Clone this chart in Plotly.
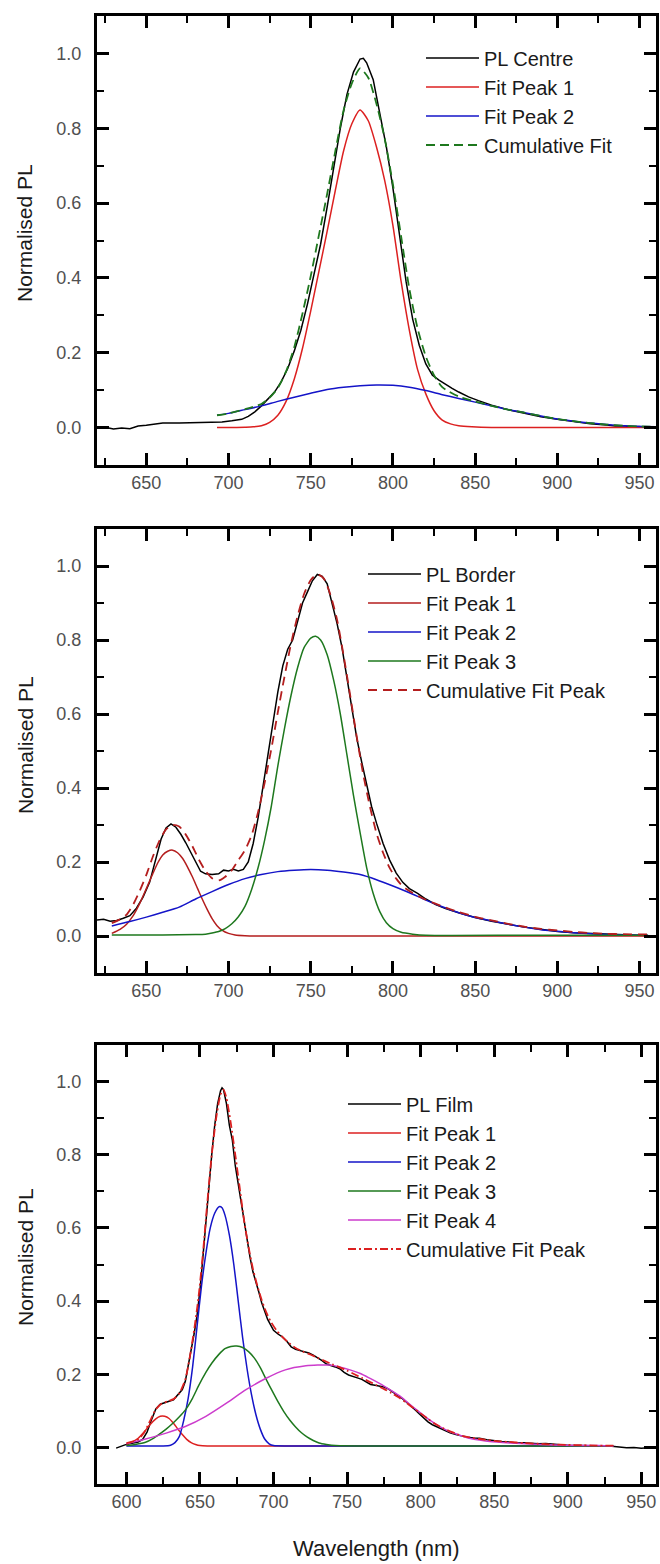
import plotly.graph_objects as go

# ---------------- Panel 1: PL Centre ----------------
centre_wl = [620, 625, 630, 635, 640, 645, 650, 655, 660, 670, 680, 690, 696, 702, 708, 712,
             716, 720, 724, 728, 732, 736, 740, 744, 748, 752, 756, 760, 764, 768, 772, 776,
             780, 782, 784, 788, 792, 796, 800, 804, 808, 812, 816, 820, 824, 828, 832, 836,
             840, 846, 852, 860, 870, 880, 890, 900, 910, 920, 930, 935, 940, 945, 950, 955, 960]
centre_pl = [-0.002, 0.001, -0.004, -0.001, -0.003, 0.004, 0.006, 0.008, 0.012, 0.012, 0.013,
             0.013, 0.015, 0.018, 0.022, 0.030, 0.042, 0.058, 0.078, 0.095, 0.122, 0.158, 0.205,
             0.260, 0.330, 0.410, 0.490, 0.590, 0.700, 0.800, 0.890, 0.950, 0.985, 0.987, 0.975,
             0.930, 0.840, 0.750, 0.640, 0.510, 0.390, 0.290, 0.220, 0.170, 0.140, 0.127, 0.115,
             0.105, 0.095, 0.082, 0.072, 0.060, 0.048, 0.038, 0.029, 0.022, 0.016, 0.010, 0.007,
             0.004, 0.005, 0.002, 0.003, 0.000, 0.001]

c_fit_wl = [693, 700, 710, 715, 720, 725, 730, 735, 740, 745, 750, 755, 760, 765, 770, 775,
            780, 785, 790, 795, 800, 805, 810, 815, 820, 825, 830, 835, 840, 848, 860, 880,
            900, 920, 940, 960]
c_peak1 = [0.000, 0.000, 0.001, 0.002, 0.005, 0.014, 0.033, 0.070, 0.130, 0.212, 0.312, 0.418,
           0.525, 0.635, 0.740, 0.812, 0.849, 0.820, 0.750, 0.660, 0.540, 0.390, 0.260, 0.155,
           0.090, 0.045, 0.020, 0.010, 0.005, 0.002, 0.000, 0.000, 0.000, 0.000, 0.000, 0.000]

c_p2_wl = [693, 700, 710, 720, 730, 740, 750, 760, 770, 780, 790, 800, 810, 820, 830, 840,
           850, 860, 870, 880, 890, 900, 910, 920, 930, 940, 950, 960]
c_peak2 = [0.033, 0.038, 0.048, 0.058, 0.070, 0.081, 0.092, 0.102, 0.108, 0.112, 0.114, 0.113,
           0.108, 0.099, 0.088, 0.078, 0.068, 0.058, 0.048, 0.040, 0.031, 0.023, 0.017, 0.012,
           0.008, 0.005, 0.003, 0.002]

c_cum_wl = [693, 700, 710, 720, 725, 730, 735, 740, 745, 750, 755, 760, 765, 770, 775, 780,
            785, 790, 795, 800, 805, 810, 815, 820, 825, 830, 840, 850, 860, 870, 880, 890,
            900, 910, 920, 930, 940, 950, 960]
c_cum = [0.033, 0.038, 0.049, 0.063, 0.080, 0.106, 0.150, 0.215, 0.305, 0.405, 0.515, 0.625,
         0.740, 0.848, 0.920, 0.960, 0.935, 0.865, 0.772, 0.650, 0.510, 0.370, 0.265, 0.190,
         0.140, 0.108, 0.083, 0.070, 0.058, 0.048, 0.040, 0.031, 0.023, 0.017, 0.012, 0.008,
         0.005, 0.003, 0.002]

# ---------------- Panel 2: PL Border ----------------
border_wl = [620, 624, 628, 632, 636, 640, 644, 648, 652, 656, 659, 662, 665, 668, 671, 674,
             677, 680, 683, 686, 690, 694, 697, 700, 703, 706, 709, 712, 715, 718, 721, 724,
             727, 730, 733, 736, 739, 742, 745, 748, 751, 754, 757, 760, 763, 766, 769, 772,
             775, 778, 781, 784, 787, 790, 794, 798, 802, 806, 810, 815, 820, 826, 832, 840,
             850, 860, 870, 880, 890, 900, 910, 920, 930, 940, 950, 960]
border_pl = [0.043, 0.045, 0.040, 0.042, 0.048, 0.055, 0.075, 0.105, 0.145, 0.210, 0.262,
             0.292, 0.303, 0.294, 0.275, 0.252, 0.225, 0.198, 0.175, 0.168, 0.166, 0.168,
             0.178, 0.176, 0.180, 0.176, 0.180, 0.200, 0.250, 0.320, 0.400, 0.490, 0.575,
             0.660, 0.730, 0.775, 0.800, 0.850, 0.900, 0.930, 0.960, 0.977, 0.972, 0.952,
             0.900, 0.845, 0.780, 0.700, 0.615, 0.535, 0.470, 0.410, 0.350, 0.305, 0.250,
             0.205, 0.170, 0.145, 0.128, 0.115, 0.100, 0.085, 0.074, 0.063, 0.050, 0.040,
             0.031, 0.024, 0.018, 0.012, 0.009, 0.007, 0.005, 0.003, 0.002, 0.000]

b_p1_wl = [629, 634, 638, 642, 646, 650, 654, 657, 660, 663, 666, 669, 672, 675, 678, 681,
           684, 687, 690, 693, 696, 700, 704, 710, 720, 800, 880, 955]
b_peak1 = [0.007, 0.018, 0.032, 0.055, 0.088, 0.128, 0.169, 0.198, 0.219, 0.229, 0.232, 0.225,
           0.210, 0.187, 0.160, 0.130, 0.100, 0.072, 0.047, 0.028, 0.016, 0.007, 0.003, 0.001,
           0.000, 0.000, 0.000, 0.000]

b_p2_wl = [629, 640, 650, 660, 670, 680, 690, 700, 710, 720, 730, 740, 750, 760, 770, 780,
           790, 800, 810, 820, 830, 840, 850, 860, 870, 880, 890, 900, 910, 920, 930, 940, 955]
b_peak2 = [0.027, 0.039, 0.051, 0.064, 0.078, 0.100, 0.120, 0.139, 0.155, 0.166, 0.174, 0.178,
           0.180, 0.178, 0.173, 0.166, 0.152, 0.135, 0.117, 0.097, 0.079, 0.063, 0.050, 0.041,
           0.032, 0.024, 0.017, 0.013, 0.009, 0.006, 0.004, 0.003, 0.002]

b_p3_wl = [629, 660, 680, 686, 690, 694, 698, 702, 706, 710, 714, 718, 722, 726, 730, 734,
           738, 742, 746, 750, 753, 756, 760, 764, 768, 772, 776, 780, 784, 788, 792, 796,
           800, 805, 812, 820, 880, 955]
b_peak3 = [0.003, 0.003, 0.004, 0.005, 0.008, 0.012, 0.020, 0.033, 0.052, 0.080, 0.125, 0.185,
           0.260, 0.350, 0.460, 0.560, 0.650, 0.725, 0.780, 0.805, 0.810, 0.800, 0.760, 0.690,
           0.600, 0.490, 0.380, 0.280, 0.185, 0.115, 0.066, 0.036, 0.020, 0.010, 0.005, 0.002,
           0.002, 0.002]

b_cum_wl = [629, 634, 638, 642, 646, 650, 654, 658, 662, 666, 670, 674, 678, 682, 686, 690,
            694, 698, 702, 706, 710, 714, 718, 722, 726, 730, 734, 738, 742, 746, 750, 754,
            758, 762, 766, 770, 774, 778, 782, 786, 790, 794, 798, 802, 806, 812, 820, 830,
            840, 850, 860, 870, 880, 890, 900, 910, 920, 930, 940, 955]
b_cum = [0.035, 0.045, 0.058, 0.085, 0.122, 0.165, 0.215, 0.258, 0.288, 0.300, 0.296, 0.274,
         0.243, 0.206, 0.176, 0.156, 0.150, 0.160, 0.178, 0.205, 0.232, 0.272, 0.335, 0.415,
         0.505, 0.605, 0.700, 0.790, 0.865, 0.925, 0.962, 0.978, 0.966, 0.922, 0.855, 0.758,
         0.650, 0.538, 0.435, 0.350, 0.278, 0.225, 0.184, 0.155, 0.134, 0.116, 0.098, 0.080,
         0.065, 0.052, 0.042, 0.033, 0.025, 0.019, 0.015, 0.011, 0.008, 0.006, 0.005, 0.004]

# ---------------- Panel 3: PL Film ----------------
film_wl = [593, 596, 599, 602, 605, 608, 611, 614, 617, 620, 623, 626, 629, 632, 635, 638,
           640, 642, 644, 646, 648, 650, 652, 654, 656, 658, 660, 662, 664, 665, 666, 668,
           670, 672, 674, 676, 678, 680, 682, 684, 686, 688, 690, 692, 694, 696, 698, 700,
           703, 706, 709, 712, 715, 718, 721, 724, 727, 730, 733, 736, 739, 742, 745, 748,
           751, 754, 757, 760, 763, 766, 769, 772, 775, 778, 781, 784, 787, 790, 793, 796,
           799, 802, 805, 808, 811, 814, 817, 820, 824, 828, 832, 836, 840, 845, 850, 855,
           860, 865, 870, 875, 880, 885, 890, 895, 900, 905, 910, 915, 920, 925, 930, 935,
           940, 945, 950, 955, 960]
film_pl = [-0.002, 0.003, 0.007, 0.010, 0.013, 0.015, 0.022, 0.042, 0.075, 0.105, 0.118,
           0.123, 0.126, 0.130, 0.143, 0.158, 0.180, 0.220, 0.265, 0.310, 0.360, 0.430, 0.520,
           0.620, 0.710, 0.800, 0.880, 0.940, 0.975, 0.983, 0.978, 0.940, 0.880, 0.840, 0.770,
           0.720, 0.670, 0.610, 0.560, 0.520, 0.480, 0.455, 0.425, 0.395, 0.370, 0.350, 0.335,
           0.320, 0.310, 0.302, 0.290, 0.275, 0.268, 0.265, 0.260, 0.258, 0.252, 0.245, 0.237,
           0.228, 0.225, 0.220, 0.215, 0.205, 0.198, 0.193, 0.190, 0.186, 0.180, 0.172, 0.170,
           0.168, 0.165, 0.160, 0.152, 0.145, 0.135, 0.125, 0.115, 0.104, 0.092, 0.080, 0.070,
           0.062, 0.056, 0.050, 0.045, 0.040, 0.035, 0.031, 0.028, 0.026, 0.025, 0.021, 0.018,
           0.016, 0.015, 0.012, 0.013, 0.011, 0.010, 0.011, 0.008, 0.007, 0.006, 0.006, 0.005,
           0.005, 0.004, 0.004, 0.003, 0.001, -0.001, 0.000, -0.002, -0.001, -0.002]

f_p1_wl = [600, 604, 608, 612, 616, 620, 623, 626, 629, 632, 635, 638, 641, 644, 647, 650,
           655, 700, 800, 931]
f_peak1 = [0.009, 0.015, 0.025, 0.042, 0.062, 0.078, 0.085, 0.085, 0.079, 0.066, 0.050, 0.035,
           0.022, 0.013, 0.008, 0.005, 0.004, 0.004, 0.004, 0.004]

f_p2_wl = [600, 625, 630, 633, 636, 639, 642, 645, 648, 651, 654, 657, 660, 663, 665, 667,
           670, 673, 676, 679, 682, 685, 688, 691, 694, 697, 700, 710, 800, 931]
f_peak2 = [0.004, 0.004, 0.006, 0.013, 0.030, 0.075, 0.135, 0.220, 0.330, 0.440, 0.530, 0.600,
           0.640, 0.658, 0.655, 0.635, 0.580, 0.500, 0.400, 0.300, 0.215, 0.145, 0.090, 0.050,
           0.023, 0.010, 0.005, 0.004, 0.004, 0.004]

f_p3_wl = [600, 606, 613, 618, 622, 627, 631, 636, 640, 645, 649, 654, 658, 663, 667, 671,
           675, 679, 683, 687, 691, 695, 699, 703, 707, 711, 715, 719, 723, 727, 731, 736,
           742, 760, 850, 931]
f_peak3 = [0.005, 0.008, 0.014, 0.024, 0.035, 0.050, 0.064, 0.084, 0.102, 0.135, 0.168, 0.205,
           0.230, 0.255, 0.270, 0.276, 0.277, 0.273, 0.262, 0.244, 0.218, 0.186, 0.155, 0.125,
           0.098, 0.075, 0.056, 0.040, 0.028, 0.019, 0.012, 0.008, 0.005, 0.004, 0.004, 0.004]

f_p4_wl = [600, 613, 627, 640, 654, 668, 681, 695, 708, 722, 730, 738, 745, 752, 759, 765,
           772, 779, 786, 792, 799, 806, 813, 820, 827, 833, 840, 847, 861, 874, 897, 920, 931]
f_peak4 = [0.010, 0.023, 0.039, 0.057, 0.085, 0.121, 0.157, 0.189, 0.212, 0.223, 0.225, 0.225,
           0.220, 0.212, 0.202, 0.190, 0.175, 0.158, 0.140, 0.120, 0.097, 0.075, 0.057, 0.043,
           0.033, 0.025, 0.020, 0.016, 0.012, 0.009, 0.006, 0.005, 0.004]

f_cum_wl = [600, 604, 608, 612, 616, 620, 624, 628, 632, 636, 640, 643, 646, 649, 652, 655,
            658, 661, 664, 666, 668, 671, 674, 677, 680, 683, 686, 689, 692, 695, 698, 702,
            706, 710, 715, 720, 725, 730, 735, 740, 745, 750, 755, 760, 765, 770, 775, 780,
            785, 790, 795, 800, 805, 810, 815, 820, 825, 830, 840, 850, 860, 870, 880, 890,
            900, 910, 920, 931]
f_cum = [0.012, 0.016, 0.022, 0.040, 0.072, 0.104, 0.120, 0.126, 0.132, 0.148, 0.185, 0.245,
         0.320, 0.410, 0.530, 0.670, 0.800, 0.900, 0.965, 0.978, 0.955, 0.885, 0.800, 0.710,
         0.620, 0.548, 0.488, 0.442, 0.402, 0.370, 0.345, 0.320, 0.302, 0.287, 0.272, 0.262,
         0.254, 0.245, 0.236, 0.227, 0.219, 0.210, 0.200, 0.190, 0.180, 0.170, 0.160, 0.149,
         0.137, 0.123, 0.108, 0.093, 0.078, 0.064, 0.053, 0.044, 0.036, 0.030, 0.023, 0.018,
         0.015, 0.012, 0.010, 0.008, 0.007, 0.006, 0.005, 0.005]

# ---------------- Colours ----------------
BLACK = "#000000"
RED = "#dc2020"
DARK_RED = "#b41e1e"
BLUE = "#1414c8"
GREEN = "#1e781e"
MAGENTA = "#cc3ccc"

FONT = "Liberation Sans, Arial, sans-serif"

fig = go.Figure()


def add(x, y, name, color, axis, legend, dash="solid", smooth=True, width=1.5):
    fig.add_trace(go.Scatter(
        x=x, y=y, name=name, mode="lines",
        line=dict(color=color, width=width, dash=dash,
                  shape="spline" if smooth else "linear", smoothing=0.6),
        xaxis="x" + axis, yaxis="y" + axis, legend=legend,
    ))


# panel 1
add(centre_wl, centre_pl, "PL Centre", BLACK, "", "legend", smooth=False)
add(c_fit_wl, c_peak1, "Fit Peak 1", RED, "", "legend")
add(c_p2_wl, c_peak2, "Fit Peak 2", BLUE, "", "legend")
add(c_cum_wl, c_cum, "Cumulative Fit", GREEN, "", "legend", dash="9px,5px", width=1.8)

# panel 2
add(border_wl, border_pl, "PL Border", BLACK, "2", "legend2", smooth=False)
add(b_p1_wl, b_peak1, "Fit Peak 1", DARK_RED, "2", "legend2")
add(b_p2_wl, b_peak2, "Fit Peak 2", BLUE, "2", "legend2")
add(b_p3_wl, b_peak3, "Fit Peak 3", GREEN, "2", "legend2")
add(b_cum_wl, b_cum, "Cumulative Fit Peak", DARK_RED, "2", "legend2", dash="9px,6px", width=1.8)

# panel 3
add(film_wl, film_pl, "PL Film", BLACK, "3", "legend3", smooth=False)
add(f_p1_wl, f_peak1, "Fit Peak 1", RED, "3", "legend3")
add(f_p2_wl, f_peak2, "Fit Peak 2", BLUE, "3", "legend3")
add(f_p3_wl, f_peak3, "Fit Peak 3", GREEN, "3", "legend3")
add(f_p4_wl, f_peak4, "Fit Peak 4", MAGENTA, "3", "legend3")
add(f_cum_wl, f_cum, "Cumulative Fit Peak", RED, "3", "legend3",
    dash="8px,3px,2px,3px", width=1.8)

W, H = 660, 1564
ML, MR = 97, 4
PW = W - ML - MR


def py(px):
    return 1 - px / H


def px_x(px):
    return (px - ML) / PW


axis_common = dict(
    showline=True, linecolor="black", linewidth=3, mirror="allticks",
    ticks="inside", ticklen=12, tickwidth=2.5, tickcolor="black",
    showgrid=False, zeroline=False,
    tickfont=dict(family=FONT, size=18, color="#505050"),
)


def xax(rng, anchor):
    return dict(axis_common, range=rng, dtick=50, tick0=0, anchor=anchor,
                ticklabelstandoff=-1,
                minor=dict(ticks="inside", ticklen=7, tickwidth=2, tickcolor="black", dtick=25))


def yax(dom, anchor):
    return dict(axis_common, range=[-0.1, 1.1], dtick=0.2, tick0=0, tickformat=".1f",
                domain=dom, anchor=anchor, ticklabelstandoff=9,
                minor=dict(ticks="inside", ticklen=7, tickwidth=2, tickcolor="black", dtick=0.1))


legend_common = dict(
    font=dict(family=FONT, size=20, color="#1a1a1a"),
    bgcolor="rgba(0,0,0,0)", borderwidth=0, itemwidth=53,
    xanchor="left", yanchor="top",
)

fig.update_layout(
    width=W, height=H,
    margin=dict(l=ML, r=MR, t=0, b=0),
    paper_bgcolor="white", plot_bgcolor="white",
    font=dict(family=FONT),
    xaxis=xax([620, 960], "y"),
    yaxis=yax([py(465), py(16)], "x"),
    xaxis2=xax([620, 960], "y2"),
    yaxis2=yax([py(973), py(529)], "x2"),
    xaxis3=xax([580, 960], "y3"),
    yaxis3=yax([py(1484), py(1045)], "x3"),
    legend=dict(legend_common, x=px_x(421), y=py(38.5)),
    legend2=dict(legend_common, x=px_x(363), y=py(554.5)),
    legend3=dict(legend_common, x=px_x(343), y=py(1084.5)),
    showlegend=True,
)

title_font = dict(family=FONT, size=21, color="#1a1a1a")
for yc in (233, 745, 1257):
    fig.add_annotation(text="Normalised PL", xref="paper", yref="paper",
                       x=px_x(25), y=py(yc), xanchor="center", yanchor="middle",
                       textangle=-90, showarrow=False, font=title_font)
fig.add_annotation(text="Wavelength (nm)", xref="paper", yref="paper",
                   x=px_x(376.5), y=py(1548), xanchor="center", yanchor="middle",
                   showarrow=False, font=dict(title_font, size=22))

fig.write_html("out.html")
